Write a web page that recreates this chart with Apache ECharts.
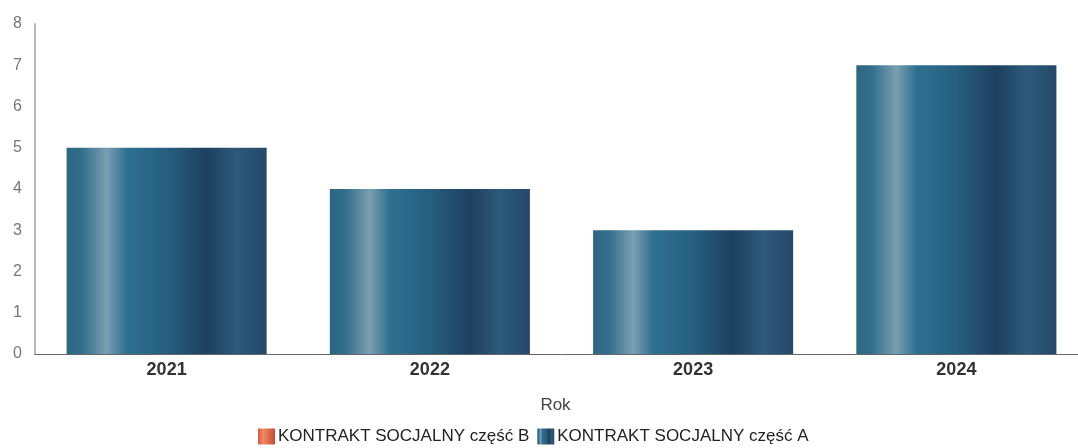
<!DOCTYPE html>
<html><head><meta charset="utf-8">
<script src="https://cdn.jsdelivr.net/npm/echarts@6/dist/echarts.min.js"></script>
<style>html,body{margin:0;padding:0;background:#fff;overflow:hidden}#c{width:1090px;height:448px}</style>
</head><body><div id="c"></div>
<script>
const categories = ['2021', '2022', '2023', '2024'];
const seriesBName = 'KONTRAKT SOCJALNY część B';
const seriesBValues = [0, 0, 0, 0];
const seriesAName = 'KONTRAKT SOCJALNY część A';
const seriesAValues = [5, 4, 3, 7];
const yTicks = [0, 1, 2, 3, 4, 5, 6, 7, 8];

const blueGrad = new echarts.graphic.LinearGradient(0, 0, 1, 0, [
  {offset: 0, color: '#2b6682'},
  {offset: 0.08, color: '#336f8b'},
  {offset: 0.2, color: '#7a9fb1'},
  {offset: 0.3, color: '#2e7090'},
  {offset: 0.5, color: '#265f80'},
  {offset: 0.7, color: '#1f405f'},
  {offset: 0.85, color: '#2c5a78'},
  {offset: 1, color: '#25496a'}
]);
const orangeGrad = new echarts.graphic.LinearGradient(0, 0, 1, 0, [
  {offset: 0, color: '#d9573a'},
  {offset: 0.3, color: '#f08a66'},
  {offset: 1, color: '#c84a2e'}
]);

const chart = echarts.init(document.getElementById('c'), null, {renderer: 'canvas'});
chart.setOption({
  animation: false,
  grid: {left: 35, right: 2, top: 24, bottom: 94, containLabel: false},
  legend: {
    top: 423, left: 253, itemWidth: 17, itemHeight: 16, itemGap: 8,
    icon: 'rect',
    textStyle: {fontFamily: 'Liberation Sans', fontSize: 17, color: '#222', padding: [0, 0, 0, -2]},
    data: [seriesBName, seriesAName]
  },
  xAxis: {
    type: 'category', data: categories,
    name: 'Rok', nameLocation: 'middle', nameGap: 43,
    nameTextStyle: {fontFamily: 'Liberation Sans', fontSize: 17, color: '#444', padding: [0, 12, 0, 0]},
    axisLine: {lineStyle: {color: '#666', width: 1}},
    axisTick: {show: false},
    axisLabel: {fontFamily: 'Liberation Sans', fontSize: 18, fontWeight: 'bold', color: '#333', margin: 7}
  },
  yAxis: {
    type: 'value', min: yTicks[0], max: yTicks[yTicks.length - 1], interval: 1,
    axisLine: {show: true, lineStyle: {color: '#bbb', width: 2}},
    axisTick: {show: false},
    splitLine: {show: false},
    axisLabel: {fontFamily: 'Liberation Sans', fontSize: 16, color: '#777', margin: 13}
  },
  series: [
    {name: seriesBName, type: 'bar', stack: 's', data: seriesBValues, barWidth: '76%',
     itemStyle: {color: orangeGrad}},
    {name: seriesAName, type: 'bar', stack: 's', data: seriesAValues, barWidth: '76%',
     itemStyle: {color: blueGrad}}
  ]
});
</script></body></html>
